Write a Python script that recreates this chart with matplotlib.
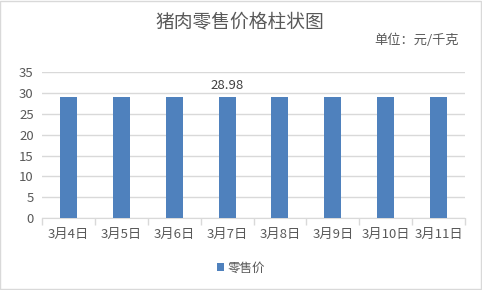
import numpy as np
import matplotlib
matplotlib.use("Agg")
import matplotlib.pyplot as plt
from matplotlib.patches import Rectangle

plt.rcParams['font.family'] = ['Noto Sans CJK SC', 'DejaVu Sans']

# data
dates = ["3月4日", "3月5日", "3月6日", "3月7日", "3月8日", "3月9日", "3月10日", "3月11日"]
prices = [28.98, 28.98, 28.98, 28.98, 28.98, 28.98, 28.98, 28.98]
labelled = "3月7日"
series_name = "零售价"

text_c = "#595959"
bar_c = "#4F81BD"
grid_c = "#D9D9D9"

fig = plt.figure(figsize=(4.82, 2.9), dpi=100)
fig.patches.append(Rectangle((0.001, 0.002), 0.997, 0.995, transform=fig.transFigure,
                             fill=False, edgecolor="#D9D9D9", linewidth=1.0))

ax = fig.add_axes([42 / 482, 1 - 218 / 290, 423 / 482, (218 - 72.3) / 290])
x = np.arange(len(dates))
bars = ax.bar(x, prices, width=0.32, color=bar_c, label=series_name, zorder=3)

ax.set_xlim(-0.5, len(dates) - 0.5)
ax.set_ylim(0, 35)
ax.set_yticks(np.arange(0, 36, 5))
ax.yaxis.grid(True, color=grid_c, linewidth=1.0, zorder=0)
ax.tick_params(axis="y", length=0, labelsize=9.5, colors=text_c, pad=6)

# category labels, boundary tick marks
ax.set_xticks(x)
ax.set_xticklabels(dates)
ax.tick_params(axis="x", which="major", length=0, labelsize=9.5, colors=text_c, pad=7)
ax.set_xticks(np.arange(-0.5, len(dates)), minor=True)
ax.tick_params(axis="x", which="minor", length=5, color=grid_c, width=1.0)

for s in ["top", "right", "left"]:
    ax.spines[s].set_visible(False)
ax.spines["bottom"].set_color(grid_c)

i = dates.index(labelled)
ax.text(x[i], prices[i] + 1.3, f"{prices[i]:.2f}", ha="center", va="bottom",
        fontsize=9.5, color="#404040")

fig.text(0.498, 0.925, "猪肉零售价格柱状图", ha="center", va="center",
         fontsize=13.5, color=text_c)
fig.text(0.953, 0.862, "单位：元/千克", ha="right", va="center",
         fontsize=9.5, color=text_c)

fig.legend(loc="center", bbox_to_anchor=(0.5, 1 - 268 / 290), frameon=False,
           fontsize=9, labelcolor=text_c, handlelength=0.6, handleheight=0.6,
           handletextpad=0.3)

fig.savefig("out.png", dpi=100)
